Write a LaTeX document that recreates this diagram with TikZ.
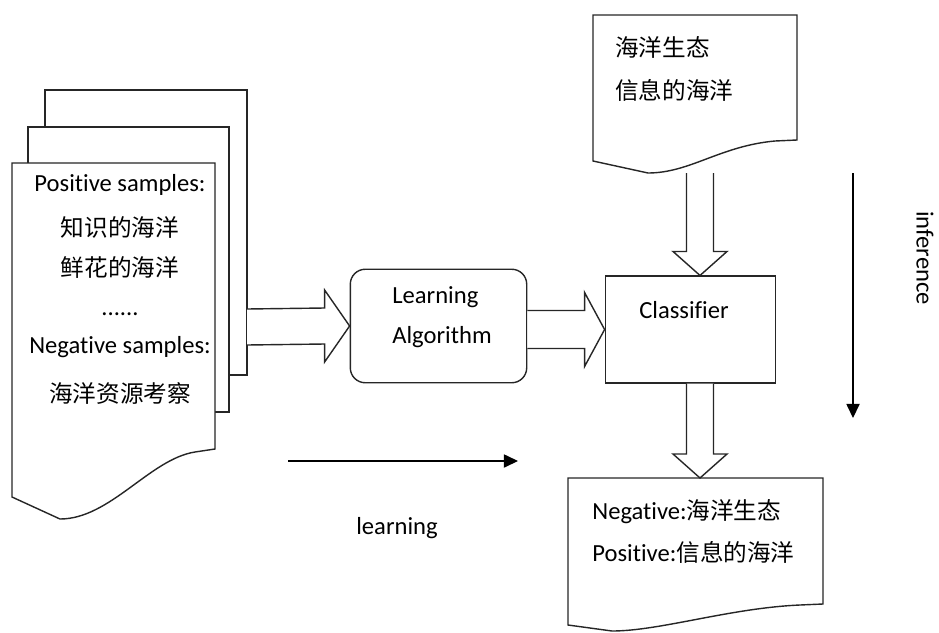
\documentclass[tikz,border=0pt]{standalone}
\usepackage{fontspec}
\setmainfont{Carlito}[Ligatures=NoCommon]
\newfontfamily\cjk[Scale=0.96]{Noto Sans CJK SC}
\usetikzlibrary{calc,arrows.meta}

\begin{document}
\begin{tikzpicture}
[x=0.02cm,y=-0.02cm,font=\fontsize{14}{17}\selectfont,
 every node/.style={inner sep=0pt},
 page/.style={draw=black!85,fill=white,line width=0.8pt},
 hollow/.style={draw=black!85,fill=white,line width=0.8pt,line join=miter},
 box/.style={draw=black!85,line width=0.8pt,minimum width=#1},
 thin/.style={-{Triangle[length=8pt,width=7.5pt]},line width=0.7pt}]
\useasboundingbox (0,0) rectangle (939,632);

% stack of training samples
\draw[page] (45,90) rectangle (247,375);
\draw[page] (28,127) rectangle (229,412);
\draw[page] (12,163) -- (215,163) -- (215,449) -- (195,452)
  .. controls (150,459) and (110,519) .. (60,519) -- (12,497) -- cycle;
\coordinate (stack) at (247,327);
\node (pos)  at (120,185) {Positive samples:};
\node (pos1) at (120,227) {\cjk 知识的海洋};
\node (pos2) at (120,268) {\cjk 鲜花的海洋};
\node (dots) at (120,314) {......};
\node (neg)  at (120,347) {Negative samples:};
\node (neg1) at (120,393) {\cjk 海洋资源考察};

% new text
\draw[page] (593,15) -- (797,15) -- (797,140) -- (775,141)
  .. controls (720,146) and (690,173) .. (648,173) -- (593,161) -- cycle;
\coordinate (query) at (700,173);
\node[anchor=west] (q1) at (615,47) {\cjk 海洋生态};
\node[anchor=west] (q2) at (615,90) {\cjk 信息的海洋};

% learner and classifier
\node[box=100.4pt,minimum height=64.6pt,rounded corners=8.5pt] (learn) at (438.5,326) {};
\node[align=left] (learntext) at (442,317) {Learning\\[6pt]Algorithm};
\node[box=97pt,minimum height=60.7pt] (clf) at (690.5,329.5) {};
\node (clftext) at (684,310) {Classifier};

% result
\draw[page] (568,478) -- (823,478) -- (823,604) -- (800,605)
  .. controls (730,608) and (660,631) .. (612,631) -- (568,625) -- cycle;
\coordinate (result) at (700,478);
\node[anchor=west] (r1) at (592,512) {Negative:{\cjk 海洋生态}};
\node[anchor=west] (r2) at (592,552) {Positive:{\cjk 信息的海洋}};

% fat arrows
\foreach \from/\to/\w/\hw/\hl in {stack/learn.west/18/36/25,
    learn.east |- clf.west/clf.west/19/37/20}
  \draw[hollow] ($(\from)+(0,-\w)$) -- ($(\to)+(-\hl,-\w)$) -- ($(\to)+(-\hl,-\hw)$)
    -- (\to) -- ($(\to)+(-\hl,\hw)$) -- ($(\to)+(-\hl,\w)$) -- ($(\from)+(0,\w)$);
\foreach \from/\to in {query/query |- clf.north, query |- clf.south/result}
  \draw[hollow] ($(\from)+(-13.5,0)$) -- ($(\to)+(-13.5,-24)$) -- ($(\to)+(-27,-24)$)
    -- (\to) -- ($(\to)+(27,-24)$) -- ($(\to)+(13.5,-24)$) -- ($(\from)+(13.5,0)$);

% phases
\coordinate (l1) at (288,461);
\coordinate (l2) at (518,461);
\draw[thin] (l1) -- (l2);
\node (learning) at (397,528) {learning};
\coordinate (i1) at (853,173);
\coordinate (i2) at (853,418);
\draw[thin] (i1) -- (i2);
\node[rotate=-90] (inference) at (925,258) {inference};
\end{tikzpicture}
\end{document}
